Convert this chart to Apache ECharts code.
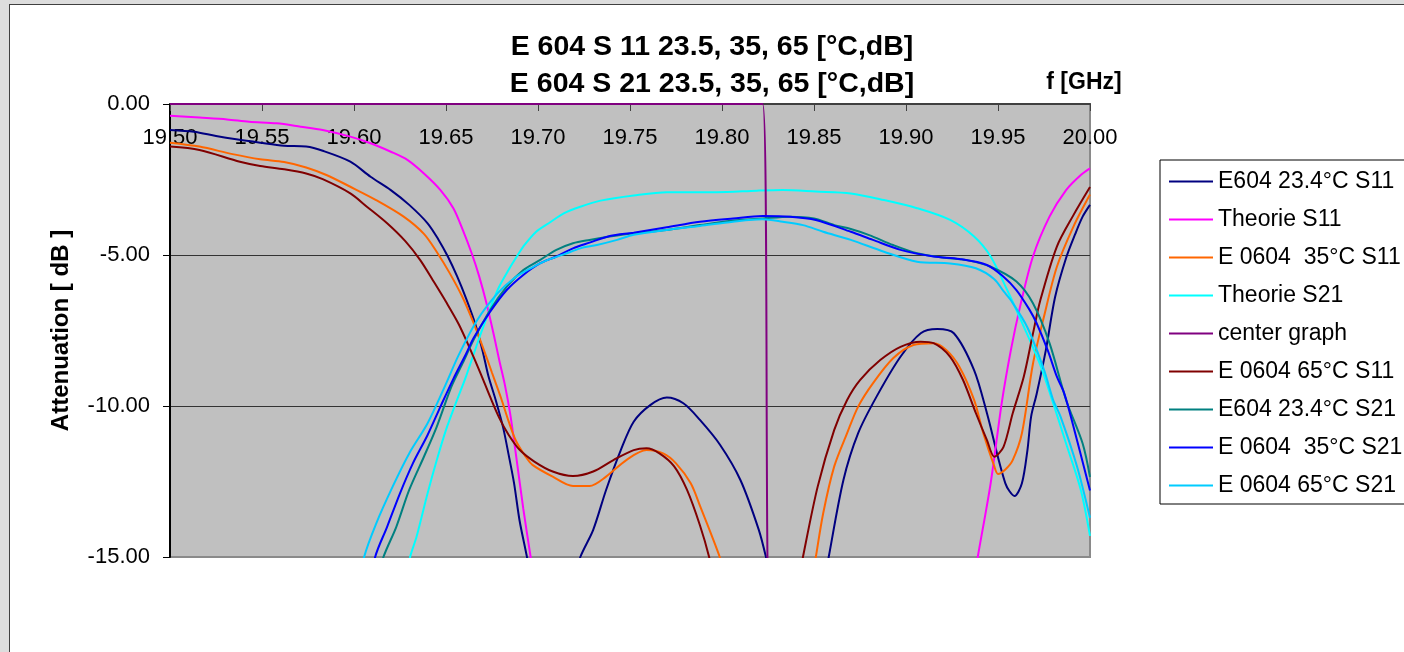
<!DOCTYPE html>
<html>
<head>
<meta charset="utf-8">
<title>E 604 S11 / S21</title>
<script src="https://cdn.jsdelivr.net/npm/echarts@6/dist/echarts.min.js"></script>
<style>
  html, body { margin: 0; padding: 0; width: 1404px; height: 652px; overflow: hidden; background: #dddddd; }
  #frame { position: absolute; left: 9px; top: 4px; width: 1500px; height: 800px; background: #ffffff; border: 1px solid #404040; }
  #chart { position: absolute; left: 10px; top: 5px; width: 1404px; height: 652px; }
</style>
</head>
<body>
<div id="frame"></div>
<div id="chart"></div>
<script>
// Frequency in GHz, attenuation in dB. '-' marks where a trace leaves the -15 dB floor.
const seriesNames = [
  'E604 23.4°C S11',
  'Theorie S11',
  'E 0604  35°C S11',
  'Theorie S21',
  'center graph',
  'E 0604 65°C S11',
  'E604 23.4°C S21',
  'E 0604  35°C S21',
  'E 0604 65°C S21'
];
const seriesColors = ['#000080', '#ff00ff', '#ff6600', '#00ffff', '#800080', '#800000', '#008080', '#0000ff', '#00ccff'];

const s11_e604_234 = [
  [19.500,-0.86],[19.513,-0.92],[19.525,-1.06],[19.536,-1.17],[19.549,-1.28],[19.562,-1.38],[19.574,-1.41],[19.583,-1.55],
  [19.598,-1.91],[19.609,-2.41],[19.620,-2.85],[19.630,-3.34],[19.640,-3.95],[19.646,-4.50],[19.651,-5.05],[19.656,-5.70],
  [19.661,-6.45],[19.666,-7.30],[19.670,-8.20],[19.673,-9.00],[19.677,-9.80],[19.681,-10.70],[19.684,-11.60],[19.687,-12.56],
  [19.690,-13.80],[19.694,-15.00],[19.695,-15.40],'-',
  [19.722,-15.40],[19.723,-15.00],[19.730,-14.10],[19.737,-12.78],[19.745,-11.46],[19.752,-10.52],[19.761,-9.97],[19.770,-9.72],
  [19.779,-9.91],[19.788,-10.46],[19.799,-11.29],[19.810,-12.45],[19.820,-14.10],[19.824,-15.03],[19.825,-15.40],'-',
  [19.857,-15.40],[19.858,-15.00],[19.866,-12.45],[19.874,-10.90],[19.884,-9.69],[19.897,-8.37],[19.908,-7.59],[19.917,-7.45],
  [19.926,-7.59],[19.937,-8.81],[19.944,-10.24],[19.954,-12.56],[19.959,-12.98],[19.963,-12.56],[19.966,-11.46],[19.968,-10.35],
  [19.971,-9.60],[19.976,-8.15],[19.981,-6.40],[19.987,-5.10],[19.992,-4.30],[19.996,-3.73],[20.000,-3.34]
];
const s11_theory = [
  [19.500,-0.39],[19.516,-0.45],[19.531,-0.51],[19.543,-0.59],[19.558,-0.64],[19.571,-0.75],[19.583,-0.86],[19.598,-1.08],
  [19.609,-1.30],[19.620,-1.58],[19.629,-1.85],[19.638,-2.30],[19.647,-2.85],[19.654,-3.45],[19.659,-4.15],[19.664,-4.95],
  [19.668,-5.70],[19.672,-6.60],[19.676,-7.65],[19.679,-8.50],[19.682,-9.30],[19.685,-10.30],[19.688,-11.60],[19.692,-13.40],
  [19.696,-15.00],[19.697,-15.40],'-',
  [19.938,-15.40],[19.939,-15.00],[19.946,-12.56],[19.952,-9.91],[19.957,-8.15],[19.962,-6.71],[19.969,-5.05],[19.978,-3.73],
  [19.987,-2.85],[19.995,-2.35],[20.000,-2.13]
];
const s11_e0604_35 = [
  [19.500,-1.28],[19.516,-1.41],[19.534,-1.66],[19.549,-1.83],[19.562,-1.92],[19.574,-2.10],[19.585,-2.35],[19.598,-2.74],
  [19.612,-3.18],[19.627,-3.73],[19.638,-4.30],[19.645,-4.90],[19.652,-5.60],[19.659,-6.40],[19.665,-7.25],[19.670,-8.05],
  [19.675,-8.90],[19.680,-9.75],[19.684,-10.50],[19.688,-11.15],[19.693,-11.65],[19.697,-11.95],[19.708,-12.34],[19.719,-12.65],
  [19.728,-12.65],[19.737,-12.34],[19.748,-11.79],[19.759,-11.46],[19.768,-11.57],[19.775,-11.90],[19.783,-12.56],[19.788,-13.30],
  [19.799,-15.04],[19.800,-15.40],'-',
  [19.850,-15.40],[19.851,-15.00],[19.855,-13.55],[19.861,-12.00],[19.868,-10.90],[19.874,-10.02],[19.882,-9.25],[19.893,-8.42],
  [19.904,-7.98],[19.915,-7.92],[19.922,-8.15],[19.929,-8.70],[19.937,-9.80],[19.942,-10.90],[19.948,-12.00],[19.950,-12.25],
  [19.954,-12.10],[19.958,-11.79],[19.963,-10.90],[19.969,-8.60],[19.975,-7.04],[19.982,-5.39],[19.991,-4.06],[20.000,-3.00]
];
const s21_theory = [
  [19.630,-15.40],[19.6305,-15.00],[19.634,-14.33],[19.640,-12.89],[19.645,-11.79],[19.650,-10.79],[19.656,-9.80],[19.661,-9.00],
  [19.669,-7.59],[19.678,-6.16],[19.685,-5.39],[19.689,-5.00],[19.692,-4.72],[19.699,-4.23],[19.707,-3.90],[19.714,-3.62],
  [19.723,-3.40],[19.734,-3.20],[19.752,-3.03],[19.770,-2.92],[19.797,-2.92],[19.819,-2.87],[19.833,-2.85],[19.851,-2.90],
  [19.870,-2.96],[19.888,-3.18],[19.906,-3.45],[19.924,-3.84],[19.937,-4.39],[19.946,-5.05],[19.955,-6.16],[19.964,-7.37],
  [19.973,-8.65],[19.980,-9.91],[19.987,-11.24],[19.995,-12.78],[20.000,-14.30]
];
const centerGraph = [
  [19.500,0.00],[19.8221,0.00],[19.8247,-15.00],[19.8249,-15.40]
];
const s11_e0604_65 = [
  [19.500,-1.41],[19.516,-1.52],[19.538,-1.91],[19.549,-2.05],[19.562,-2.16],[19.574,-2.30],[19.583,-2.49],[19.598,-2.96],
  [19.607,-3.40],[19.618,-3.95],[19.628,-4.55],[19.636,-5.17],[19.643,-5.85],[19.650,-6.55],[19.657,-7.30],[19.663,-8.10],
  [19.669,-8.95],[19.674,-9.70],[19.679,-10.40],[19.684,-10.95],[19.690,-11.45],[19.698,-11.84],[19.708,-12.17],[19.719,-12.32],
  [19.730,-12.17],[19.741,-11.79],[19.752,-11.46],[19.759,-11.40],[19.766,-11.57],[19.774,-12.00],[19.781,-12.78],[19.788,-13.95],
  [19.793,-15.00],[19.794,-15.40],'-',
  [19.843,-15.40],[19.844,-15.00],[19.852,-12.67],[19.861,-10.79],[19.868,-9.80],[19.875,-9.14],[19.886,-8.48],[19.897,-8.04],
  [19.908,-7.87],[19.915,-7.92],[19.924,-8.37],[19.931,-9.14],[19.938,-10.24],[19.944,-11.13],[19.948,-11.68],[19.953,-11.35],
  [19.958,-10.24],[19.964,-9.03],[19.969,-7.60],[19.973,-6.50],[19.982,-4.72],[19.991,-3.68],[20.000,-2.75]
];
const s21_e604_234 = [
  [19.615,-15.40],[19.616,-15.00],[19.623,-14.00],[19.630,-12.78],[19.638,-11.68],[19.645,-10.68],[19.653,-9.35],[19.659,-8.59],
  [19.665,-7.81],[19.674,-6.82],[19.683,-6.05],[19.692,-5.50],[19.701,-5.17],[19.710,-4.83],[19.719,-4.61],[19.728,-4.50],
  [19.739,-4.39],[19.752,-4.28],[19.770,-4.17],[19.788,-4.01],[19.806,-3.86],[19.822,-3.79],[19.837,-3.73],[19.850,-3.79],
  [19.861,-4.01],[19.870,-4.14],[19.880,-4.34],[19.893,-4.67],[19.906,-4.94],[19.920,-5.08],[19.933,-5.17],[19.946,-5.39],
  [19.960,-5.88],[19.969,-6.60],[19.978,-7.92],[19.987,-9.80],[19.996,-11.24],[20.000,-12.35]
];
const s21_e0604_35 = [
  [19.611,-15.40],[19.6115,-15.00],[19.618,-14.00],[19.625,-12.89],[19.632,-11.90],[19.640,-10.96],[19.647,-10.02],[19.654,-9.10],
  [19.661,-8.26],[19.665,-7.75],[19.674,-6.88],[19.683,-6.16],[19.692,-5.66],[19.701,-5.28],[19.710,-5.05],[19.719,-4.78],
  [19.728,-4.59],[19.739,-4.37],[19.752,-4.26],[19.770,-4.08],[19.788,-3.90],[19.806,-3.79],[19.822,-3.71],[19.837,-3.73],
  [19.851,-3.84],[19.870,-4.23],[19.882,-4.50],[19.897,-4.83],[19.915,-5.05],[19.929,-5.13],[19.944,-5.33],[19.953,-5.72],
  [19.960,-6.16],[19.967,-6.80],[19.971,-7.26],[19.977,-8.15],[19.982,-9.03],[19.986,-9.58],[19.991,-10.68],[20.000,-12.80]
];
const s21_e0604_65 = [
  [19.605,-15.40],[19.6055,-15.00],[19.612,-13.90],[19.621,-12.67],[19.630,-11.57],[19.640,-10.57],[19.649,-9.40],[19.657,-8.30],
  [19.667,-7.15],[19.678,-6.27],[19.687,-5.77],[19.696,-5.44],[19.705,-5.17],[19.714,-4.98],[19.723,-4.78],[19.732,-4.67],
  [19.743,-4.50],[19.752,-4.33],[19.770,-4.17],[19.788,-4.04],[19.806,-3.90],[19.822,-3.82],[19.833,-3.90],[19.844,-4.01],
  [19.855,-4.23],[19.870,-4.50],[19.888,-4.89],[19.906,-5.22],[19.924,-5.28],[19.938,-5.44],[19.948,-5.80],[19.953,-6.20],
  [19.957,-6.50],[19.966,-7.40],[19.975,-8.80],[19.980,-9.80],[19.984,-10.35],[19.993,-12.01],[20.000,-13.70]
];

const seriesData = [
  s11_e604_234, s11_theory, s11_e0604_35, s21_theory, centerGraph,
  s11_e0604_65, s21_e604_234, s21_e0604_35, s21_e0604_65
];

const FONT = '"Liberation Sans", Arial, sans-serif';
const fmt2 = v => Number(v).toFixed(2);

const chart = echarts.init(document.getElementById('chart'), null, { renderer: 'canvas' });

chart.setOption({
  animation: false,
  textStyle: { fontFamily: FONT, color: '#000' },
  title: {
    text: 'E 604 S 11 23.5, 35, 65 [°C,dB]\nE 604 S 21 23.5, 35, 65 [°C,dB]',
    left: 'center',
    top: 24,
    padding: 0,
    textStyle: { fontFamily: FONT, fontSize: 28.5, fontWeight: 'bold', lineHeight: 37, color: '#000' }
  },
  legend: {
    orient: 'vertical',
    left: 1150,
    top: 155,
    icon: 'rect',
    itemWidth: 44,
    itemHeight: 2,
    itemGap: 15,
    padding: [10, 30, 7, 9],
    borderColor: '#000',
    borderWidth: 1,
    backgroundColor: '#fff',
    selectedMode: false,
    textStyle: { fontFamily: FONT, fontSize: 23, lineHeight: 22, color: '#000' },
    data: seriesNames
  },
  grid: {
    left: 160, top: 99, width: 920, height: 453,
    show: true,
    backgroundColor: '#c0c0c0',
    borderColor: '#8a8a8a',
    borderWidth: 2
  },
  xAxis: {
    type: 'value',
    position: 'top',
    min: 19.5,
    max: 20,
    interval: 0.05,
    name: 'f [GHz]',
    nameLocation: 'end',
    nameGap: -6,
    nameTextStyle: { fontFamily: FONT, fontSize: 23, fontWeight: 'bold', color: '#000', align: 'center', verticalAlign: 'bottom', padding: [0, 0, 10, 0] },
    axisLine: { show: true, onZero: false, lineStyle: { color: '#404040', width: 2 } },
    axisTick: { show: true, inside: true, length: 7, lineStyle: { color: '#404040', width: 1 } },
    axisLabel: { inside: true, margin: 23, fontSize: 22, color: '#000', fontFamily: FONT, formatter: fmt2, showMinLabel: true, showMaxLabel: true },
    splitLine: { show: false }
  },
  yAxis: {
    type: 'value',
    min: -15,
    max: 0,
    interval: 5,
    name: 'Attenuation [ dB ]',
    nameLocation: 'middle',
    nameRotate: 90,
    nameGap: 97,
    nameTextStyle: { fontFamily: FONT, fontSize: 24, fontWeight: 'bold', color: '#000' },
    axisLine: { show: true, onZero: false, lineStyle: { color: '#000', width: 2 } },
    axisTick: { show: true, length: 7, lineStyle: { color: '#000', width: 1 } },
    axisLabel: { margin: 20, fontSize: 22, color: '#000', fontFamily: FONT, formatter: fmt2 },
    splitLine: { show: true, showMinLine: false, showMaxLine: false, lineStyle: { color: '#333', width: 1 } }
  },
  series: seriesNames.map((name, i) => ({
    name,
    type: 'line',
    data: seriesData[i],
    color: seriesColors[i],
    showSymbol: false,
    symbol: 'none',
    smooth: 0.3,
    connectNulls: false,
    clip: true,
    lineStyle: { color: seriesColors[i], width: 2 },
    emphasis: { disabled: true }
  }))
});
</script>
</body>
</html>
